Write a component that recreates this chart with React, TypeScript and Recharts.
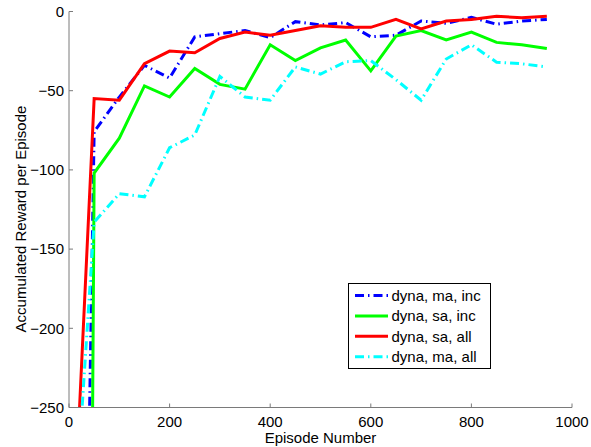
import React from "react";
import { LineChart, Line, XAxis, YAxis, Legend, Label } from "recharts";

const episodes = [0, 50, 100, 150, 200, 250, 300, 350, 400, 450, 500, 550, 600, 650, 700, 750, 800, 850, 900, 950];
const dynaMaInc = [-1043, -76, -54, -34, -42, -16, -14, -12, -16.5, -6.4, -8.5, -7, -16, -15, -6, -7.5, -3.7, -8, -6, -5];
const dynaSaInc = [-2569, -102, -80, -47, -54, -36, -46, -49, -21, -31, -23, -18, -37.5, -15.5, -12, -18, -13, -19.5, -21, -23.3];
const dynaSaAll = [-391, -55, -56, -33, -25, -26, -17, -13, -15, -12, -9, -10, -10, -5, -11, -6, -5, -3, -4, -3];
const dynaMaAll = [-377, -133, -115, -117, -86, -78, -41, -54, -56, -35, -39.5, -31.7, -31, -43, -56, -30, -21, -32, -33, -35];

const xTicks = [0, 200, 400, 600, 800, 1000];
const yTicks = [-250, -200, -150, -100, -50, 0];

const seriesNames = ["dyna, ma, inc", "dyna, sa, inc", "dyna, sa, all", "dyna, ma, all"];

const data = episodes.map((ep, i) => ({
  ep,
  maInc: dynaMaInc[i],
  saInc: dynaSaInc[i],
  saAll: dynaSaAll[i],
  maAll: dynaMaAll[i],
}));

const FONT = "'Liberation Sans', Arial, Helvetica, sans-serif";
const AXIS_GRAY = "#7a7a7a";
const DASHDOT = "9 4 1.5 4";

const fmt = (v: number) => (v < 0 ? "\u2212" + Math.abs(v) : String(v));

const XTick = (props: any) => {
  const { x, y, payload } = props;
  return (
    <g>
      <line x1={x} y1={y} x2={x} y2={y - 4} stroke={AXIS_GRAY} strokeWidth={1} />
      <text x={x} y={y + 19} textAnchor="middle" fontSize={15} fontFamily={FONT} fill="#000">
        {fmt(payload.value)}
      </text>
    </g>
  );
};

const YTick = (props: any) => {
  const { x, y, payload } = props;
  return (
    <g>
      <line x1={x} y1={y} x2={x + 4} y2={y} stroke={AXIS_GRAY} strokeWidth={1} />
      <text x={x - 5} y={y + 5.3} textAnchor="end" fontSize={15} fontFamily={FONT} fill="#000">
        {fmt(payload.value)}
      </text>
    </g>
  );
};

const legendItems = [
  { name: seriesNames[0], color: "#0000ff", dash: DASHDOT },
  { name: seriesNames[1], color: "#00ff00", dash: undefined },
  { name: seriesNames[2], color: "#ff0000", dash: undefined },
  { name: seriesNames[3], color: "#00ffff", dash: DASHDOT },
];

const renderLegend = () => (
  <svg width={143} height={86} style={{ display: "block" }}>
    <rect x={0.5} y={0.5} width={142} height={85} fill="#fff" stroke="#000" strokeWidth={1} />
    {legendItems.map((it, i) => {
      const cy = 12.5 + i * 20.4;
      return (
        <g key={it.name}>
          <line x1={7} y1={cy} x2={40} y2={cy} stroke={it.color} strokeWidth={3} strokeDasharray={it.dash} />
          <text x={43.5} y={cy + 5.2} fontSize={15} fontFamily={FONT} fill="#000">
            {it.name}
          </text>
        </g>
      );
    })}
  </svg>
);

export default function App() {
  return (
    <div style={{ position: "absolute", left: 0, top: 0 }}>
      <LineChart
        width={591}
        height={447}
        data={data}
        margin={{ top: 11.5, right: 19, bottom: 0, left: 0 }}
        style={{ background: "#fff" }}
      >
        <XAxis
          dataKey="ep"
          type="number"
          domain={[0, 1000]}
          ticks={xTicks}
          interval={0}
          height={39.5}
          stroke={AXIS_GRAY}
          tickLine={false}
          tickSize={0}
          tickMargin={0}
          tick={(p: any) => <XTick {...p} />}
          allowDataOverflow
        >
          <Label
            content={() => (
              <text x={320.5} y={443} textAnchor="middle" fontSize={15} fontFamily={FONT} fill="#000">
                Episode Number
              </text>
            )}
          />
        </XAxis>
        <YAxis
          type="number"
          domain={[-250, 0]}
          ticks={yTicks}
          interval={0}
          width={69}
          stroke={AXIS_GRAY}
          tickLine={false}
          tickSize={0}
          tickMargin={0}
          tick={(p: any) => <YTick {...p} />}
          allowDataOverflow
        >
          <Label
            content={() => (
              <text
                x={20}
                y={219}
                transform="rotate(-90 20 219)"
                textAnchor="middle"
                dominantBaseline="central"
                fontSize={15}
                fontFamily={FONT}
                fill="#000"
              >
                Accumulated Reward per Episode
              </text>
            )}
          />
        </YAxis>
        <Legend
          layout="vertical"
          align="center"
          verticalAlign="middle"
          content={renderLegend}
          wrapperStyle={{ left: 348, top: 282.5, width: 143, height: 86 }}
        />
        <Line dataKey="maInc" name={seriesNames[0]} stroke="#0000ff" strokeWidth={3} strokeDasharray={DASHDOT} dot={false} isAnimationActive={false} />
        <Line dataKey="saInc" name={seriesNames[1]} stroke="#00ff00" strokeWidth={3} dot={false} isAnimationActive={false} />
        <Line dataKey="saAll" name={seriesNames[2]} stroke="#ff0000" strokeWidth={3} dot={false} isAnimationActive={false} />
        <Line dataKey="maAll" name={seriesNames[3]} stroke="#00ffff" strokeWidth={3} strokeDasharray={DASHDOT} dot={false} isAnimationActive={false} />
      </LineChart>
    </div>
  );
}
